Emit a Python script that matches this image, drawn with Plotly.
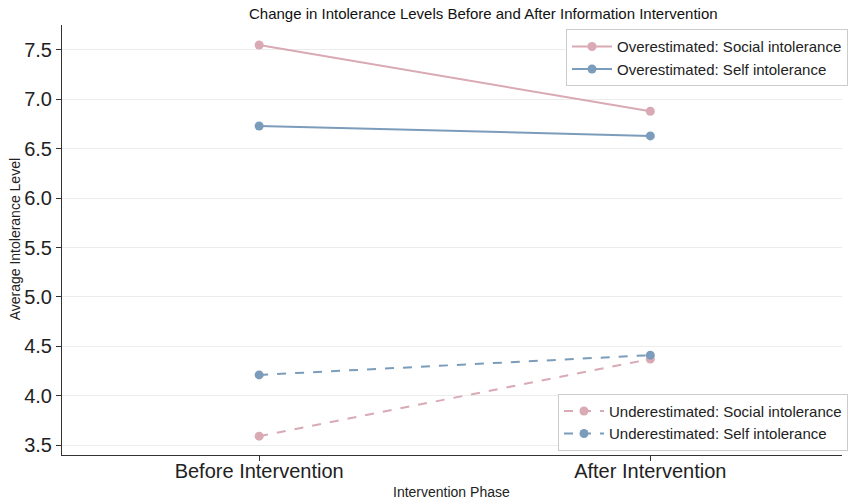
import plotly.graph_objects as go

phases = ["Before Intervention", "After Intervention"]
over_social = [7.55, 6.88]
over_self = [6.73, 6.63]
under_social = [3.59, 4.37]
under_self = [4.21, 4.41]
yticks = [3.5, 4.0, 4.5, 5.0, 5.5, 6.0, 6.5, 7.0, 7.5]

PINK = "#d9a9b4"
BLUE = "#7b9dbb"

fig = go.Figure()
xs = [0, 1]
def add(name, ys, color, dash, legend):
    fig.add_trace(go.Scatter(x=xs, y=ys, mode="lines+markers", name=name,
                             line=dict(color=color, width=2, dash=dash),
                             marker=dict(color=color, size=9), legend=legend))

add("Overestimated: Social intolerance", over_social, PINK, "solid", "legend")
add("Overestimated: Self intolerance", over_self, BLUE, "solid", "legend")
add("Underestimated: Social intolerance", under_social, PINK, "dash", "legend2")
add("Underestimated: Self intolerance", under_self, BLUE, "dash", "legend2")

legstyle = dict(bgcolor="white", bordercolor="#cccccc", borderwidth=1,
                font=dict(family="Arial", size=15, color="#222"),
                xanchor="right", x=1.008, itemwidth=40, tracegroupgap=0)

fig.update_layout(
    width=848, height=499,
    margin=dict(l=62, r=0, t=25, b=44),
    paper_bgcolor="white", plot_bgcolor="white",
    font=dict(family="Arial", color="#222"),
    title=dict(text="Change in Intolerance Levels Before and After Information Intervention",
               x=458 / 848, xref="paper", xanchor="center", y=1 - 14 / 499, yanchor="middle",
               font=dict(size=15, color="#111")),
    legend=dict(**legstyle, y=0.99, yanchor="top"),
    legend2=dict(**legstyle, y=0.01, yanchor="bottom"),
    xaxis=dict(range=[-0.504, 1.49], tickvals=xs, ticktext=phases,
               tickfont=dict(size=20, color="#222"), ticks="outside", ticklen=5,
               ticklabelstandoff=-7,
               tickcolor="#333", showline=True, linecolor="#333", linewidth=1,
               showgrid=False, zeroline=False, automargin=False),
    yaxis=dict(range=[3.399, 7.753], tickvals=yticks,
               ticktext=[f"{v:.1f}" for v in yticks],
               tickfont=dict(size=20, color="#222"), ticks="outside", ticklen=5,
               tickcolor="#333", showline=True, linecolor="#333", linewidth=1,
               showgrid=True, gridcolor="#ececec", gridwidth=1, zeroline=False,
               automargin=False),
    annotations=[
        dict(text="Intervention Phase", xref="paper", yref="paper",
             x=(454 - 62) / (848 - 62), y=-(492 - 455) / 430, xanchor="center",
             yanchor="middle", showarrow=False, font=dict(size=14, color="#222")),
        dict(text="Average Intolerance Level", xref="paper", yref="paper",
             x=-(62 - 15) / (848 - 62), y=(455 - 239) / 430, xanchor="center",
             yanchor="middle", textangle=-90, showarrow=False,
             font=dict(size=14, color="#222")),
    ],
)

fig.write_html("out.html", config={"displayModeBar": False},
               post_script="document.body.style.margin='0';")
